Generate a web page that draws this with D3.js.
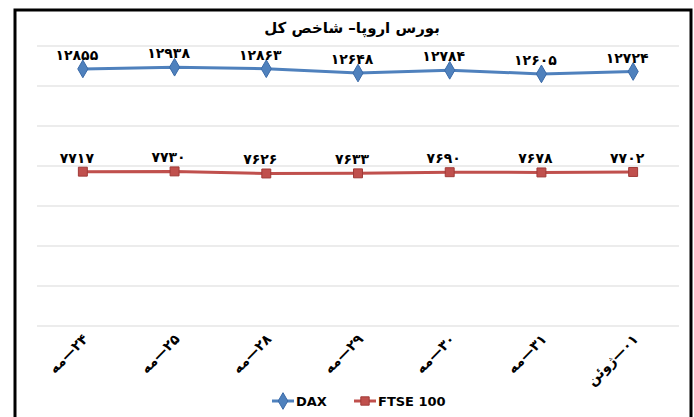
<!DOCTYPE html>
<html>
<head>
<meta charset="utf-8">
<script src="https://cdn.jsdelivr.net/npm/d3@7"></script>
<style>
  body { margin: 0; background: #fff; }
  text { font-family: "DejaVu Sans", sans-serif; }
</style>
</head>
<body>
<div id="chart"></div>
<script>
(function(){
  // Categories (dates) and series values
  const dates = ["۲۴—مه", "۲۵—مه", "۲۸—مه", "۲۹—مه", "۳۰—مه", "۳۱—مه", "۰۱—ژوئن"];
  const dax = [12855, 12938, 12863, 12648, 12784, 12605, 12724];
  const ftse = [7717, 7730, 7626, 7633, 7690, 7678, 7702];
  const yTicks = [0, 2000, 4000, 6000, 8000, 10000, 12000, 14000];

  const width = 694, height = 417;
  const margin = { top: 46, right: 14, bottom: 91, left: 37 };
  const toFa = n => String(n).replace(/\d/g, d => "۰۱۲۳۴۵۶۷۸۹"[d]);

  const svg = d3.select("#chart").append("svg")
    .attr("width", width)
    .attr("height", height);

  // outer frame
  svg.append("rect")
    .attr("x", 15).attr("y", 10)
    .attr("width", 676).attr("height", 420)
    .attr("fill", "#fff").attr("stroke", "#000").attr("stroke-width", 3);

  const x = d3.scaleBand()
    .domain(dates)
    .range([margin.left, width - margin.right - 1]);
  const y = d3.scaleLinear()
    .domain([0, 14000])
    .range([height - margin.bottom, margin.top]);

  // gridlines
  svg.append("g").selectAll("line")
    .data(yTicks)
    .enter().append("line")
    .attr("x1", margin.left).attr("x2", width - margin.right - 1)
    .attr("y1", d => y(d)).attr("y2", d => y(d))
    .attr("stroke", "#d9d9d9").attr("stroke-width", 1);

  // title
  svg.append("text")
    .attr("x", 352).attr("y", 33)
    .attr("text-anchor", "middle")
    .attr("direction", "rtl")
    .attr("font-size", 15).attr("font-weight", "bold")
    .text("بورس اروپا– شاخص کل");

  const cx = d => x(d) + x.bandwidth() / 2;

  const series = [
    { name: "DAX", values: dax, color: "#4f81bd", edge: "#3a6aa8", shape: d3.symbolDiamond },
    { name: "FTSE 100", values: ftse, color: "#c0504d", edge: "#a03a37", shape: d3.symbolSquare }
  ];

  const line = d3.line()
    .x((v, i) => cx(dates[i]))
    .y(v => y(v));

  series.forEach(s => {
    const g = svg.append("g");
    g.append("path")
      .datum(s.values)
      .attr("d", line)
      .attr("fill", "none")
      .attr("stroke", s.color)
      .attr("stroke-width", 3);
    g.selectAll(".pt")
      .data(s.values)
      .enter().append("path")
      .attr("class", "pt")
      .attr("transform", (v, i) => `translate(${cx(dates[i])},${y(v)})`)
      .attr("d", d3.symbol().type(s.shape).size(s.shape === d3.symbolSquare ? 80 : 90))
      .attr("fill", s.color)
      .attr("stroke", s.edge)
      .attr("stroke-width", 1);
    g.selectAll(".lbl")
      .data(s.values)
      .enter().append("text")
      .attr("class", "lbl")
      .attr("x", (v, i) => cx(dates[i]) - 6)
      .attr("y", v => y(v) - 9)
      .attr("text-anchor", "middle")
      .attr("font-size", 14).attr("font-weight", "bold")
      .attr("letter-spacing", 0.5)
      .text(v => toFa(v));
  });

  // category labels rotated
  svg.append("g").selectAll("text")
    .data(dates)
    .enter().append("text")
    .attr("transform", d => `translate(${cx(d) + 6},${height - margin.bottom + 14}) rotate(-45)`)
    .attr("text-anchor", "start")
    .attr("direction", "rtl")
    .attr("font-size", 14).attr("font-weight", "bold")
    .text(d => d);

  // legend
  const legend = svg.append("g").attr("transform", "translate(0,401)");
  const legendX = [272, 354];
  series.forEach((s, i) => {
    const lg = legend.append("g").attr("transform", `translate(${legendX[i]},0)`);
    lg.append("line")
      .attr("x1", 0).attr("x2", 22)
      .attr("stroke", s.color).attr("stroke-width", 3);
    lg.append("path")
      .attr("transform", "translate(11,0)")
      .attr("d", d3.symbol().type(s.shape).size(s.shape === d3.symbolSquare ? 70 : 80))
      .attr("fill", s.color).attr("stroke", s.edge);
    lg.append("text")
      .attr("x", 24).attr("y", 5)
      .attr("font-family", "Open Sans, sans-serif")
      .attr("font-size", 13).attr("font-weight", "bold")
      .text(s.name);
  });
})();
</script>
</body>
</html>
